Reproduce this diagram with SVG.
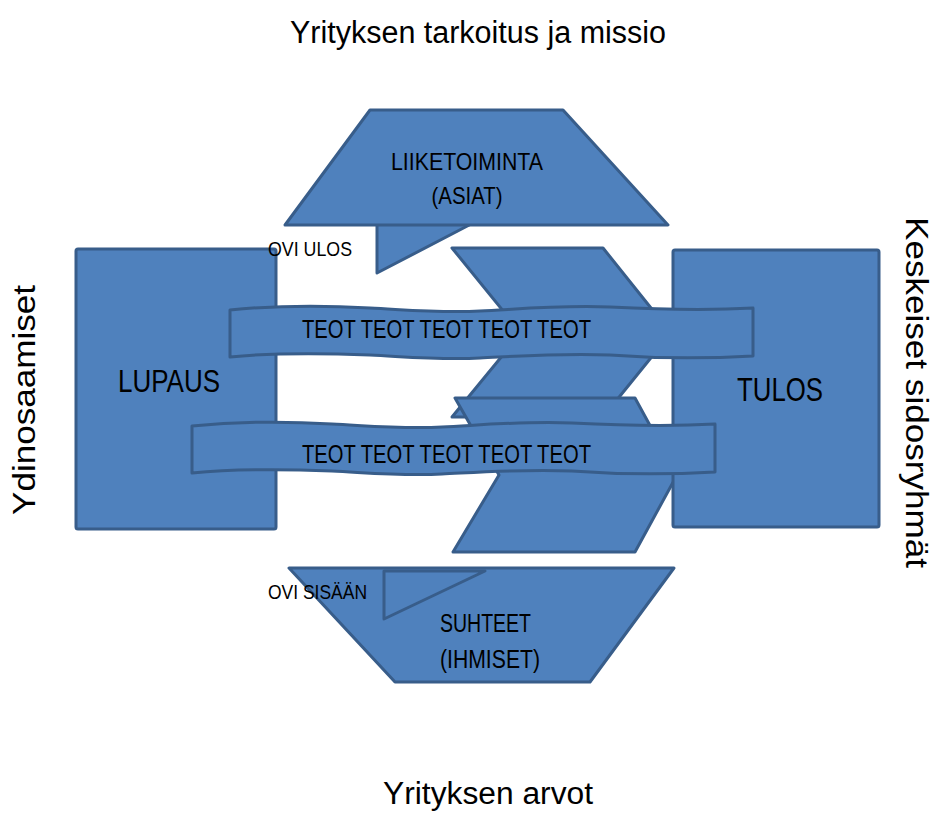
<svg xmlns="http://www.w3.org/2000/svg" xmlns:xlink="http://www.w3.org/1999/xlink" width="934" height="814" viewBox="0 0 934 814">
  <style>
    .shape { fill: #4F81BD; stroke: #385D8A; stroke-width: 3; stroke-linejoin: round; }
    .t { font-family: "Liberation Sans", Arial, sans-serif; fill: #000000; }
  </style>
  <defs>
    <path id="ribbon" d="M230,310 C270,306 320,305 370,308 C410,310 440,313 480,311 C520,309 560,305 610,307 C650,309 700,311 753,308 L753,356 C700,359 650,358 610,355 C560,353 520,356 480,358 C440,360 410,357 370,355 C320,353 270,353 230,357 Z"/>
  </defs>
  <rect width="934" height="814" fill="#FFFFFF"/>

  <g id="labels-outer">
    <text class="t" x="290" y="43" font-size="31" textLength="376" lengthAdjust="spacingAndGlyphs">Yrityksen tarkoitus ja missio</text>
    <text class="t" x="383" y="804" font-size="31" textLength="210" lengthAdjust="spacingAndGlyphs">Yrityksen arvot</text>
    <text class="t" transform="translate(35,515) rotate(-90)" x="0" y="0" font-size="31" textLength="230" lengthAdjust="spacingAndGlyphs">Ydinosaamiset</text>
    <text class="t" transform="translate(906,217) rotate(90)" x="0" y="0" font-size="31" textLength="351" lengthAdjust="spacingAndGlyphs">Keskeiset sidosryhmät</text>
  </g>

  <g id="liiketoiminta">
    <polygon class="shape" points="377,222 377,273 475,222"/>
    <polygon class="shape" points="370,110 563,110 668,225 285,225"/>
    <text class="t" x="467" y="170" font-size="24" text-anchor="middle" textLength="152" lengthAdjust="spacingAndGlyphs">LIIKETOIMINTA</text>
    <text class="t" x="467" y="204" font-size="24" text-anchor="middle" textLength="71" lengthAdjust="spacingAndGlyphs">(ASIAT)</text>
  </g>

  <g id="chevron-upper">
    <polygon class="shape" points="452,248 603,248 671,333 603,417 452,417 521,333"/>
  </g>
  <g id="chevron-lower">
    <polygon class="shape" points="455,398 635,398 677,475 635,552 453,552 499,475"/>
  </g>

  <g id="lupaus">
    <rect class="shape" x="76" y="249" width="200" height="280" rx="2"/>
    <text class="t" x="118" y="392" font-size="32" textLength="102" lengthAdjust="spacingAndGlyphs">LUPAUS</text>
  </g>

  <g id="tulos">
    <rect class="shape" x="673" y="250" width="206" height="277" rx="2"/>
    <text class="t" x="737" y="401" font-size="33" textLength="86" lengthAdjust="spacingAndGlyphs">TULOS</text>
  </g>

  <g id="connectors">
    <g id="teot-upper">
      <use xlink:href="#ribbon" href="#ribbon" class="shape"/>
      <text class="t" x="302" y="338" font-size="25" textLength="289" lengthAdjust="spacingAndGlyphs">TEOT TEOT TEOT TEOT TEOT</text>
    </g>
    <g id="teot-lower">
      <use xlink:href="#ribbon" href="#ribbon" class="shape" transform="translate(-38,116)"/>
      <text class="t" x="302" y="463" font-size="25" textLength="289" lengthAdjust="spacingAndGlyphs">TEOT TEOT TEOT TEOT TEOT</text>
    </g>
  </g>

  <g id="suhteet">
    <polygon class="shape" points="289,568 674,568 590,682 395,682"/>
    <polygon class="shape" points="384,571 384,619 485,571"/>
    <text class="t" x="440" y="632" font-size="25" textLength="91" lengthAdjust="spacingAndGlyphs">SUHTEET</text>
    <text class="t" x="440" y="668" font-size="25" textLength="100" lengthAdjust="spacingAndGlyphs">(IHMISET)</text>
  </g>

  <g id="ovi-labels">
    <text class="t" x="268" y="256" font-size="20" textLength="84" lengthAdjust="spacingAndGlyphs">OVI ULOS</text>
    <text class="t" x="268" y="599" font-size="21" textLength="99" lengthAdjust="spacingAndGlyphs">OVI SISÄÄN</text>
  </g>
</svg>
